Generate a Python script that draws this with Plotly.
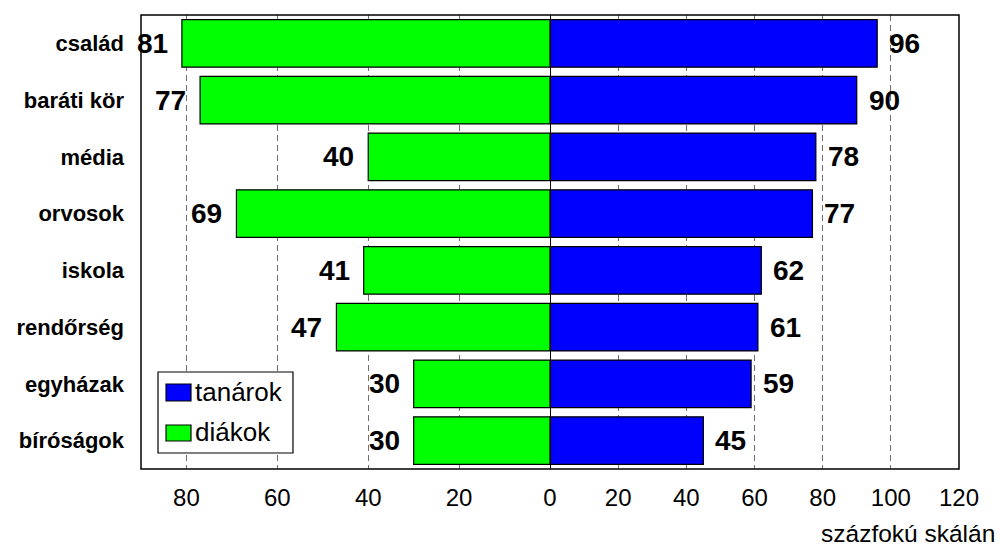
import plotly.graph_objects as go

categories = ["család", "baráti kör", "média", "orvosok", "iskola", "rendőrség", "egyházak", "bíróságok"]
tanarok = [96, 90, 78, 77, 62, 61, 59, 45]
diakok = [81, 77, 40, 69, 41, 47, 30, 30]
series_names = ["tanárok", "diákok"]
left_ticks = [80, 60, 40, 20]
right_ticks = [0, 20, 40, 60, 80, 100, 120]
axis_note = "százfokú skálán"

FONT = "Arial, Liberation Sans, sans-serif"
GREEN = "#00FF00"
BLUE = "#0000FF"

fig = go.Figure()
fig.add_trace(go.Bar(
    x=diakok, y=categories, orientation="h", name=series_names[1],
    marker=dict(color=GREEN, line=dict(color="black", width=1.2)),
    xaxis="x", yaxis="y", showlegend=False,
))
fig.add_trace(go.Bar(
    x=tanarok, y=categories, orientation="h", name=series_names[0],
    marker=dict(color=BLUE, line=dict(color="black", width=1.2)),
    xaxis="x2", yaxis="y", showlegend=False,
))

annotations = []
for c, v in zip(categories, diakok):
    annotations.append(dict(x=v, y=c, xref="x", yref="y", text=str(v), showarrow=False,
                            xanchor="right", yanchor="middle", xshift=-12,
                            font=dict(family=FONT, size=28, color="black", weight=700)))
for c, v in zip(categories, tanarok):
    annotations.append(dict(x=v, y=c, xref="x2", yref="y", text=str(v), showarrow=False,
                            xanchor="left", yanchor="middle", xshift=10,
                            font=dict(family=FONT, size=28, color="black", weight=700)))

# axis note
annotations.append(dict(x=1.045, y=-0.142, xref="paper", yref="paper", text=axis_note,
                        showarrow=False, xanchor="right", yanchor="middle", borderpad=0,
                        font=dict(family=FONT, size=24.5, color="black")))

# custom legend text
legend_y = [0.1696, 0.0815]
for name, ly in zip(series_names, legend_y):
    annotations.append(dict(x=0.064, y=ly, xref="paper", yref="paper", text=name,
                            showarrow=False, xanchor="left", yanchor="middle",
                            font=dict(family=FONT, size=26, color="black")))

shapes = [
    # zero line
    dict(type="line", xref="x2", yref="paper", x0=0, x1=0, y0=0, y1=1,
         line=dict(color="black", width=2), layer="above"),
    # frame
    dict(type="rect", xref="paper", yref="paper", x0=0, x1=1, y0=0, y1=1,
         line=dict(color="black", width=1.5), layer="above"),
    # legend box
    dict(type="rect", xref="paper", yref="paper", x0=0.0208, x1=0.1858, y0=0.0352, y1=0.2137,
         line=dict(color="black", width=1.2), fillcolor="white", layer="above"),
    # legend swatches
    dict(type="rect", xref="paper", yref="paper", x0=0.0306, x1=0.0611, y0=0.1498, y1=0.1872,
         line=dict(color="black", width=1.2), fillcolor=BLUE, layer="above"),
    dict(type="rect", xref="paper", yref="paper", x0=0.0306, x1=0.0611, y0=0.0617, y1=0.0969,
         line=dict(color="black", width=1.2), fillcolor=GREEN, layer="above"),
]

axis_common = dict(
    showgrid=True, gridcolor="#707070", gridwidth=1, griddash="6px,4px",
    zeroline=False, showline=False, ticks="",
    tickfont=dict(family=FONT, size=24, color="black"),
    ticklabelstandoff=12,
)

fig.update_layout(
    width=1000, height=549,
    margin=dict(l=141, r=41, t=15, b=80),
    paper_bgcolor="white", plot_bgcolor="white",
    bargap=0.16,
    xaxis=dict(domain=[0, 0.5], range=[90, 0], tickvals=left_ticks, anchor="y", **axis_common),
    xaxis2=dict(domain=[0.5, 1], range=[0, 120], tickvals=right_ticks, anchor="y", **axis_common),
    yaxis=dict(categoryorder="array", categoryarray=categories, autorange="reversed",
               showgrid=False, zeroline=False, showline=False, ticks="",
               tickfont=dict(family=FONT, size=22, color="black", weight=700),
               ticklabelstandoff=16),
    annotations=annotations,
    shapes=shapes,
    showlegend=False,
)

fig.write_html("out.html", config={"displayModeBar": False},
               post_script="document.body.style.margin='0';document.body.style.overflow='hidden';")
